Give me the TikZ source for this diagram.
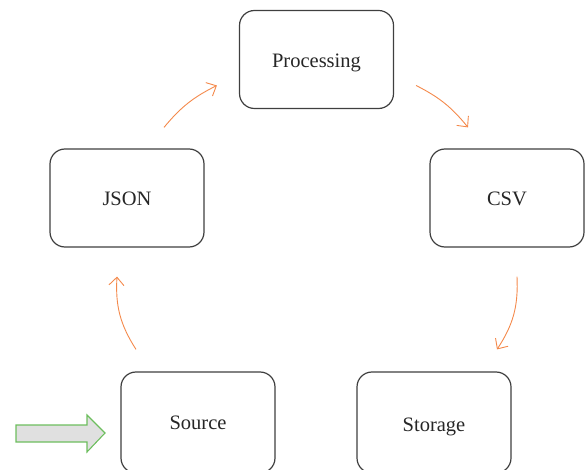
\documentclass[tikz,border=0pt]{standalone}
\usepackage{fontspec}
\setmainfont{Liberation Serif}
\usetikzlibrary{arrows.meta}
\definecolor{flowor}{HTML}{F4894B}
\definecolor{edgegr}{HTML}{3F3F3F}
\definecolor{feedgn}{HTML}{6DBE5E}
\definecolor{feedfill}{HTML}{E0E0E0}
\tikzset{
  stage/.style={draw=edgegr,line width=1.2pt,rounded corners=15pt,
    minimum width=154pt,minimum height=98pt,text height=20pt,text depth=4pt,
    font=\fontsize{20.5}{24}\selectfont,text=black!85},
  flow/.style={flowor,line width=0.9pt,-{Straight Barb[length=8pt,width=15pt]}},
  feed/.style={draw=feedgn,fill=feedfill,line width=1.1pt,line join=miter}
}
\begin{document}
\begin{tikzpicture}[x=1pt,y=-1pt]
\useasboundingbox (0,0) rectangle (586,470);
\node[stage] (proc) at (316.5,59.5) {Processing};
\node[stage] (json) at (127,198) {JSON};
\node[stage] (csv) at (507,198) {CSV};
\node[stage,minimum height=101pt,text height=17pt] (src) at (198,422.5) {Source};
\node[stage,minimum height=101pt,text height=22pt] (store) at (434,422.5) {Storage};
% the cycle
\draw[flow] ([shift={(37,-21)}]json.north) to[bend left=12] ([shift={(-22,26)}]proc.west);
\draw[flow] ([shift={(22,26)}]proc.east) to[bend left=12] ([shift={(-39,-21)}]csv.north);
\draw[flow] ([shift={(10,29)}]csv.south) to[bend left=18] ([shift={(63,-22)}]store.north);
\draw[flow] ([shift={(-62,-22)}]src.north) to[bend left=18] ([shift={(-10,29)}]json.south);
% input arrow
\draw[feed] (16,425) -- (87,425) -- (87,415) -- (105,433) -- (87,452) -- (87,442) -- (16,442) -- cycle;
\end{tikzpicture}
\end{document}
